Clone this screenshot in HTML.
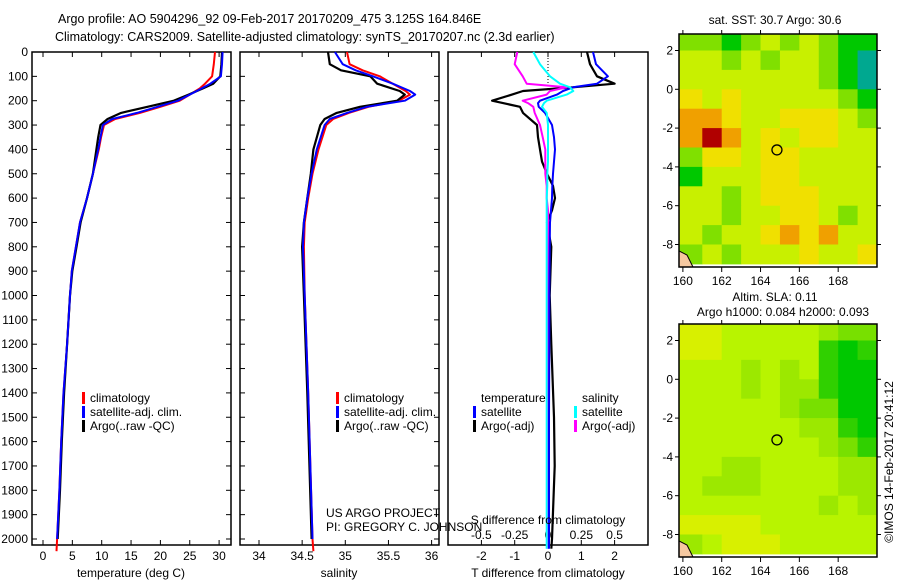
<!DOCTYPE html>
<html><head><meta charset="utf-8"><style>
html,body{margin:0;padding:0;background:#fff;}
svg{display:block;font-family:"Liberation Sans",sans-serif;}
</style></head><body>
<svg id="fig" width="900" height="580" viewBox="0 0 900 580" xmlns="http://www.w3.org/2000/svg">
<text x="58" y="23" font-size="12.5">Argo profile: AO 5904296_92 09-Feb-2017 20170209_475 3.125S 164.846E</text>
<text x="55" y="41" font-size="12.5">Climatology: CARS2009. Satellite-adjusted climatology: synTS_20170207.nc (2.3d earlier)</text>
<g id="g"></g>
</svg>
<script>
// ---------- profile data ----------
const tDepth = [0,50,100,130,150,175,200,225,250,275,300,350,400,500,600,700,800,900,1000,1200,1400,1600,1800,2000,2050];
const tClim  = [29.3,29.1,28.8,27.6,26.7,25.0,23.3,20.0,16.5,12.3,10.4,9.9,9.5,8.5,7.5,6.3,5.6,4.9,4.6,4.1,3.5,3.1,2.8,2.4,2.3];
const tSat   = [30.6,30.5,30.3,28.5,27.0,25.0,23.0,19.5,16.0,11.8,10.2,9.8,9.4,8.5,7.5,6.3,5.6,4.9,4.6,4.1,3.5,3.1,2.8,2.4,2.3];
const tArgo  = [30.5,30.4,30.2,29.0,27.2,24.8,22.3,17.8,13.3,11.0,9.8,9.4,9.1,8.5,7.5,6.4,5.7,5.0,4.6,4.1,3.6,3.2,2.9,2.5,2.5];
const sDepth = [0,50,75,100,130,160,175,200,225,250,275,300,400,500,600,700,800,1000,1400,2000,2050];
const sClim  = [35.02,35.05,35.2,35.40,35.55,35.7,35.75,35.62,35.27,35.04,34.86,34.78,34.69,34.62,34.57,34.53,34.52,34.53,34.57,34.62,34.63];
const sSat   = [34.88,34.97,35.12,35.32,35.55,35.75,35.81,35.69,35.25,35.02,34.82,34.76,34.67,34.61,34.56,34.52,34.51,34.53,34.57,34.62,34.62];
const sArgo  = [34.80,34.82,34.95,35.29,35.37,35.63,35.69,35.60,35.17,34.90,34.76,34.71,34.63,34.60,34.56,34.52,34.50,34.52,34.56,34.61,34.61];
const dDepth = [0,50,100,130,145,160,175,200,210,225,250,300,350,400,450,500,550,600,650,700,800,1000,1200,1500,1700,2000,2040];
const dTsat  = [1.35,1.44,1.8,1.47,0.75,0.45,0.27,-0.24,-0.3,-0.28,-0.09,0.12,0.18,0.21,0.18,0.15,0.13,0.12,0.09,0.06,0.05,0.04,0.04,0.03,0.03,0.03,0.03];
const dTargo = [1.17,1.26,1.47,2.0,0.75,-0.75,-1.08,-1.68,-1.35,-0.84,-0.75,-0.33,-0.3,-0.24,-0.18,-0.03,0.15,0.21,0.12,-0.03,0.1,0.05,0.1,0.18,0.2,0.12,0.1];
const dSsat  = [-0.11,-0.06,0.015,0.09,0.165,0.19,0.14,-0.01,-0.03,-0.045,-0.01,0,0,0,0,-0.005,-0.005,-0.01,-0.01,-0.01,-0.01,-0.01,-0.01,-0.01,-0.01,-0.01,-0.01];
const dSargo = [-0.23,-0.25,-0.19,-0.16,0.14,0.015,-0.01,-0.19,-0.15,-0.11,-0.1,-0.06,-0.04,-0.02,-0.02,-0.02,-0.01,-0.01,0,0,0,0,0,0,0,0,0];
const depthTicks = [0,100,200,300,400,500,600,700,800,900,1000,1100,1200,1300,1400,1500,1600,1700,1800,1900,2000];
const tTicks = [0,5,10,15,20,25,30];
const sTicks = [34,34.5,35,35.5,36];
const sTickLabels = ["34","34.5","35","35.5","36"];
const dTTicks = [-2,-1,0,1,2];
const dSTicks = [-0.5,-0.25,0,0.25,0.5];
const dSTickLabels = ["-0.5","-0.25","0","0.25","0.5"];
// ---------- map data (1 deg cells, lon 160..170, lat 3..-9) ----------
const sstLevels = [
[2,2,1,2,3,2,3,2,1,1],
[3,3,2,3,2,3,3,2,1,0],
[3,3,3,3,3,3,3,2,1,0],
[4,3,4,3,3,3,3,3,2,1],
[5,5,4,3,3,4,4,4,3,2],
[5,6,5,3,4,3,4,4,3,3],
[2,4,4,3,4,4,3,3,3,3],
[1,3,3,3,4,4,3,3,3,3],
[3,3,2,3,4,4,4,3,3,3],
[3,3,2,3,3,4,4,3,2,3],
[3,2,3,3,4,5,4,5,3,3],
[2,3,2,3,3,3,4,3,3,4]];
const slaLevels = [
[0,0,1,1,1,1,1,2,3,3],
[0,0,1,1,1,1,1,4,5,4],
[1,1,1,2,1,2,1,4,5,5],
[1,1,1,2,1,2,2,4,5,5],
[1,1,1,1,1,2,3,3,5,5],
[1,1,1,1,1,1,2,2,4,5],
[1,1,1,1,1,1,1,2,3,4],
[1,1,2,2,1,1,1,1,2,2],
[1,2,2,2,1,1,1,1,2,2],
[1,1,1,1,1,1,1,2,1,2],
[0,0,0,0,1,1,1,1,1,1],
[2,1,0,0,0,1,1,1,1,1]];
const lonTicks = [160,162,164,166,168];
const latTicks = [2,0,-2,-4,-6,-8];
const argoLon = 164.846, argoLat = -3.125;

const NS="http://www.w3.org/2000/svg";
const G=document.getElementById('g');
function el(tag,attrs,parent){const e=document.createElementNS(NS,tag);for(const k in attrs)e.setAttribute(k,attrs[k]);(parent||G).appendChild(e);return e;}
function txt(x,y,s,anchor,size,parent){const t=el('text',{x:x,y:y,'font-size':size||12,'text-anchor':anchor||'start'},parent);t.textContent=s;return t;}

const TOP=52, BOT=545;
const yD = d => TOP + d*0.2435;
const P1={x0:32,x1:231}, P2={x0:240,x1:439}, P3={x0:448,x1:648};
const xT = t => 43 + t*5.87;
const xS = s => 259 + (s-34)*86.3;
const xDT = v => 548 + v*33.3;
const xDS = v => 548 + v*133.3;

function frame(P,name,sideTicks){
  const r=el('rect',{x:P.x0,y:TOP,width:P.x1-P.x0,height:BOT-TOP,fill:'none',stroke:'#000','stroke-width':1.5});
  
  
  if(sideTicks){for(const d of depthTicks){el('line',{x1:P.x0,x2:P.x0+5,y1:yD(d),y2:yD(d),stroke:'#000'});el('line',{x1:P.x1-5,x2:P.x1,y1:yD(d),y2:yD(d),stroke:'#000'});}}
}
function xticks(vals,labels,fx,ly,top){
  vals.forEach((v,i)=>{const x=fx(v);
    el('line',{x1:x,x2:x,y1:BOT,y2:BOT-5,stroke:'#000'});
    if(top) el('line',{x1:x,x2:x,y1:TOP,y2:TOP+5,stroke:'#000'});
    const t=txt(x,ly,labels[i],'middle',12);
    
    
  });
}
function line(depths,vals,fx,color,w,name){
  const pts=depths.map((d,i)=>fx(vals[i]).toFixed(1)+','+yD(d).toFixed(1)).join(' ');
  const p=el('polyline',{points:pts,fill:'none',stroke:color,'stroke-width':w,'stroke-linejoin':'round'});
  
  
}
function legend(x,y,items){
  items.forEach((it,i)=>{
    el('rect',{x:x,y:y+i*14-10,width:3,height:12,fill:it[0]});
    const t=txt(x+8,y+i*14,it[1],'start',12);
    
    
  });
}

// Panel 1
frame(P1,'temperature-panel',true);
depthTicks.forEach(d=>{const t=txt(28,yD(d)+4,String(d),'end',12);});
xticks(tTicks,tTicks.map(String),xT,560,true);
line(tDepth,tClim,xT,'#ff0000',2,'temperature-climatology-line');
line(tDepth.slice(0,24),tArgo.slice(0,24),xT,'#000',2.2,'temperature-argo-line');
line(tDepth.slice(0,24),tSat.slice(0,24),xT,'#0000ff',2,'temperature-satellite-line');
let t1=txt(131,577,'temperature (deg C)','middle',12);
legend(82,402,[['#ff0000','climatology'],['#0000ff','satellite-adj. clim.'],['#000','Argo(..raw -QC)']]);

// Panel 2
frame(P2,'salinity-panel',true);
xticks(sTicks,sTickLabels,xS,560,true);
line(sDepth,sClim,xS,'#ff0000',2,'salinity-climatology-line');
line(sDepth.slice(0,20),sArgo.slice(0,20),xS,'#000',2.2,'salinity-argo-line');
line(sDepth.slice(0,20),sSat.slice(0,20),xS,'#0000ff',2,'salinity-satellite-line');
let t2=txt(339,577,'salinity','middle',12);
legend(336,402,[['#ff0000','climatology'],['#0000ff','satellite-adj. clim.'],['#000','Argo(..raw -QC)']]);
let u1=txt(326,517,'US ARGO PROJECT','start',12);
let u2=txt(326,531,'PI: GREGORY C. JOHNSON','start',12);

// Panel 3
frame(P3,'difference-panel',false);
xticks(dTTicks,dTTicks.map(String),xDT,560,true);
dSTicks.forEach((v,i)=>{const t=txt(xDS(v),539,dSTickLabels[i],'middle',12);});
el('line',{x1:548,x2:548,y1:TOP,y2:yD(160),stroke:'#000','stroke-dasharray':'1,2'});
line(dDepth,dTargo,xDT,'#000',2.2,'t-diff-argo-line');
line(dDepth,dSargo,xDS,'#ff00ff',2,'s-diff-argo-line');
line(dDepth,dTsat,xDT,'#0000ff',2,'t-diff-satellite-line');
line(dDepth,dSsat,xDS,'#00ffff',2,'s-diff-satellite-line');
let t3=txt(548,524,'S difference from climatology','middle',12);
let t4=txt(548,577,'T difference from climatology','middle',12);
let h1=txt(481,402,'temperature','start',12);
let h2=txt(582,402,'salinity','start',12);
legend(473,416,[['#0000ff','satellite'],['#000','Argo(-adj)']]);
legend(574,416,[['#00ffff','satellite'],['#ff00ff','Argo(-adj)']]);

// Maps
const sstPal=['#00a890','#00c800','#80e000','#c8f000','#f0e000','#f0a000','#b00000'];
const slaPal=['#d8f000','#b8f400','#9ce800','#78e000','#30d000','#00c800'];
function map(M,levels,pal,name){
  const xL=lon=>M.x0+(lon-159.8)*(M.x1-M.x0)/10.2;
  const yL=lat=>M.y0+(M.latTop-lat)*M.ppd;
  const g=el('g',{});
  
  
  const cp=el('clipPath',{id:name+'-clip'},g);
  el('rect',{x:M.x0,y:M.y0,width:M.x1-M.x0,height:M.y1-M.y0},cp);
  const cg=el('g',{'clip-path':'url(#'+name+'-clip)'},g);
  levels.forEach((row,r)=>row.forEach((v,c)=>{
    const x=xL(160+c)-(c==0?5:0), y=yL(3-r);
    const cell=el('rect',{x:x,y:y,width:xL(161+c)-xL(160+c)+(c==0?5:0)+0.5,height:M.ppd+0.5,fill:pal[v]},cg);
    
    
  }));
  el('path',{d:`M${M.x0} ${M.y1-16} l8 4 l6 12 l-14 0 z`,fill:'#f5c8a0',stroke:'#000','stroke-width':1},cg);
  el('rect',{x:M.x0,y:M.y0,width:M.x1-M.x0,height:M.y1-M.y0,fill:'none',stroke:'#000','stroke-width':1.5},g);
  lonTicks.forEach(l=>{const x=xL(l);el('line',{x1:x,x2:x,y1:M.y1,y2:M.y1+5,stroke:'#000'},g);el('line',{x1:x,x2:x,y1:M.y0,y2:M.y0-4,stroke:'#000'},g);
    const t=txt(x,M.y1+18,String(l),'middle',12,g);});
  latTicks.forEach(l=>{const y=yL(l);el('line',{x1:M.x0-4,x2:M.x0,y1:y,y2:y,stroke:'#000'},g);el('line',{x1:M.x1,x2:M.x1+4,y1:y,y2:y,stroke:'#000'},g);
    const t=txt(M.x0-6,y+4,String(l),'end',12,g);});
  const c=el('circle',{cx:xL(argoLon),cy:yL(argoLat),r:5,fill:'none',stroke:'#000','stroke-width':1.3},g);
  
  
}
map({x0:679,x1:877,y0:34,y1:267,latTop:2.85,ppd:19.4},sstLevels,sstPal,'sst-map');
map({x0:679,x1:877,y0:324,y1:557,latTop:2.85,ppd:19.4},slaLevels,slaPal,'sla-map');
let m1=txt(775,24,'sat. SST: 30.7 Argo: 30.6','middle',12);
let m2=txt(775,301,'Altim. SLA: 0.11','middle',12);
let m3=txt(783,316,'Argo h1000: 0.084 h2000: 0.093','middle',12);
let cr=txt(0,0,'©IMOS 14-Feb-2017 20:41:12','middle',12);
cr.setAttribute('transform','translate(893,462) rotate(-90)');


</script>
</body></html>
